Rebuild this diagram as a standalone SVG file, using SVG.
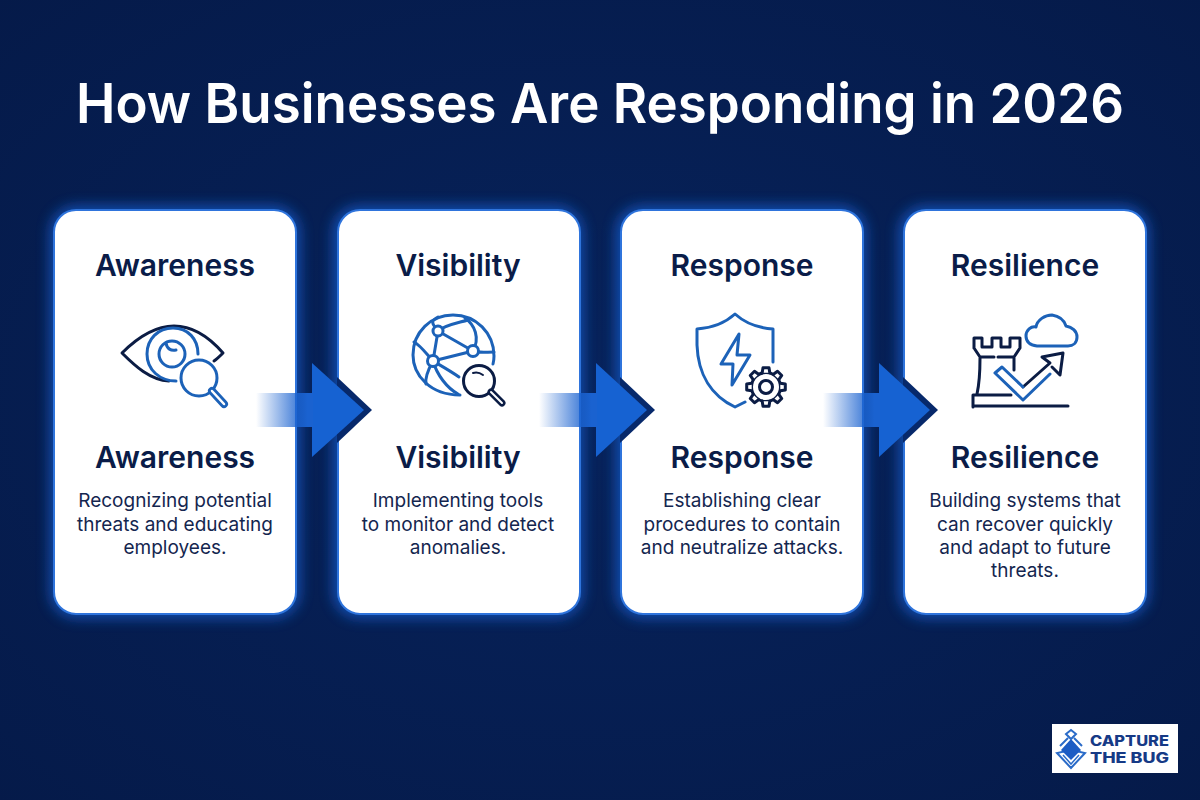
<svg xmlns="http://www.w3.org/2000/svg" xmlns:xlink="http://www.w3.org/1999/xlink" width="1200" height="800" viewBox="0 0 1200 800">
<style>
text{font-family:Inter,"Liberation Sans",sans-serif;text-anchor:middle}
.h{font-size:30px;font-weight:600;fill:#0a1c48}
.b{font-size:19px;fill:#14264f}
.card{fill:#fff;stroke:#2f74dc;stroke-width:2}
.ic{fill:none;stroke-width:3;stroke-linecap:round;stroke-linejoin:round}
.bl{stroke:#1c62b8}
.dk{stroke:#0b1c44}
.lg{font-size:14px;font-weight:800;fill:#163a86;text-anchor:start}
</style>
<defs>
<radialGradient id="bg" cx="50%" cy="50%" r="72%"><stop offset="0" stop-color="#07235c"/><stop offset="1" stop-color="#051a49"/></radialGradient>
<linearGradient id="fade" x1="0" x2="1" y1="0" y2="0"><stop offset="0" stop-color="#1a62d0" stop-opacity="0"/><stop offset="0.9" stop-color="#1a62d0"/></linearGradient>
<filter id="glow" x="-20%" y="-20%" width="140%" height="140%"><feGaussianBlur stdDeviation="7"/></filter>
<path id="tooth" d="M-3.800 -14.300L-3 -19.300H3L3.800 -14.300" fill="#fff"/>
</defs>
<rect width="1200" height="800" fill="url(#bg)"/>
<text x="600" y="123" font-size="55" font-weight="600" fill="#fff" textLength="1048" lengthAdjust="spacingAndGlyphs">How Businesses Are Responding in 2026</text>

<g id="glows" fill="#175ccb" opacity="0.8" filter="url(#glow)">
<rect x="50" y="206" width="250" height="412" rx="26"/>
<rect x="333" y="206" width="250" height="412" rx="26"/>
<rect x="616" y="206" width="250" height="412" rx="26"/>
<rect x="899" y="206" width="250" height="412" rx="26"/>
</g>

<g id="node-awareness">
<rect class="card" x="54" y="210" width="242" height="404" rx="22"/>
<text class="h" x="175" y="276">Awareness</text>
<g class="ic">
<path class="dk" d="M169 381C150 380 135 366 122 353C138 337 155 326 174 326C194 326 210 338 223 353C220 356 217 359 214 361"/>
<path class="bl" d="M198 354C198 339 188 328 173 328C158 328 147 339 147 354C147 370 160 381 176 381"/>
<circle class="bl" cx="172" cy="354" r="13"/>
<path class="bl" d="M166 343C167 349 171 351 176 350"/>
<circle class="bl" cx="199" cy="378" r="18" fill="#fff"/>
<path class="bl" d="M212 391L224 404" stroke-width="8"/>
<path d="M212 391L224 404" stroke="#fff" stroke-width="2.500"/>
</g>
<text class="h" x="175" y="468">Awareness</text>
<text class="b" x="175" y="507">Recognizing potential</text>
<text class="b" x="175" y="531">threats and educating</text>
<text class="b" x="175" y="554">employees.</text>
</g>

<g id="node-visibility">
<rect class="card" x="338" y="210" width="242" height="404" rx="22"/>
<text class="h" x="458" y="276">Visibility</text>
<g class="ic bl">
<path d="M460 395C430 395 413 375 413 355C413 332 431 315 453 315C476 315 494 333 494 356C494 357 494 360 493 364"/>
<path d="M438 331L473 351L433 361L438 331M438 331C430 322 432 320 438 317M473 351C480 338 475 325 465 318M433 361C425 352 420 345 414 342M433 361C437 375 447 388 458 394M473 351C478 353 486 352 494 352M438 331C445 325 458 323 468 320M433 361C445 368 452 372 459 377M433 361C428 370 425 378 426 384"/>
<g fill="#fff"><circle cx="438" cy="331" r="5"/><circle cx="473" cy="351" r="5.500"/><circle cx="433" cy="361" r="5.500"/></g>
</g>
<g class="ic dk">
<circle cx="479" cy="381" r="15.500" fill="#fff"/>
<path d="M491 392L502 403" stroke-width="7"/>
<path d="M491 392L502 403" stroke="#fff" stroke-width="2"/>
<path d="M473 373C476 372 479 372 483 375" stroke-width="2"/>
</g>
<text class="h" x="458" y="468">Visibility</text>
<text class="b" x="458" y="507">Implementing tools</text>
<text class="b" x="458" y="531">to monitor and detect</text>
<text class="b" x="458" y="554">anomalies.</text>
</g>

<g id="node-response">
<rect class="card" x="621" y="210" width="242" height="404" rx="22"/>
<text class="h" x="742" y="276">Response</text>
<g class="ic bl">
<path d="M745 402L735 407C712 396 698 375 697 345V329C713 328 725 323 735 314C745 323 758 328 773 329V362"/>
<path d="M739 334L721 364H733L732 385L750 355H737Z"/>
</g>
<g class="ic dk" transform="translate(766 387)">
<circle r="14.500" fill="#fff"/>
<use href="#tooth"/>
<use href="#tooth" transform="rotate(45)"/>
<use href="#tooth" transform="rotate(90)"/>
<use href="#tooth" transform="rotate(135)"/>
<use href="#tooth" transform="rotate(180)"/>
<use href="#tooth" transform="rotate(225)"/>
<use href="#tooth" transform="rotate(270)"/>
<use href="#tooth" transform="rotate(315)"/>
<circle r="6.500"/>
</g>
<text class="h" x="742" y="468">Response</text>
<text class="b" x="742" y="507">Establishing clear</text>
<text class="b" x="742" y="531">procedures to contain</text>
<text class="b" x="742" y="554">and neutralize attacks.</text>
</g>

<g id="node-resilience">
<rect class="card" x="904" y="210" width="242" height="404" rx="22"/>
<text class="h" x="1025" y="276">Resilience</text>
<g class="ic dk">
<path d="M974 348V338H982V347H992V338H1001V347H1010V338H1020V348L1014 357H998M994 357H980L974 348M980 358C980 372 979 385 977 394M973 407V395H1011M973 406H1068M1014 358V370"/>
<path d="M1023 387L1050 363L1042 357L1063 353L1060 375L1052 367"/>
</g>
<g class="ic bl">
<path d="M1023 387L1002 367L995 373L1023 400L1050 374"/>
<path d="M1037 346C1029 345 1026 341 1026 336C1026 330 1031 326 1036 327C1037 320 1045 315 1052 315C1059 316 1064 320 1066 326C1072 327 1077 331 1077 337C1077 343 1073 346 1068 346Z"/>
</g>
<text class="h" x="1025" y="468">Resilience</text>
<text class="b" x="1025" y="507">Building systems that</text>
<text class="b" x="1025" y="531">can recover quickly</text>
<text class="b" x="1025" y="554">and adapt to future</text>
<text class="b" x="1025" y="577">threats.</text>
</g>

<g id="connectors">
<g id="arrow-1"><path d="M337 377L372 410L337 443Z" fill="#07296b"/><path d="M312 363L364 410L312 457Z" fill="#1662d2"/><rect x="256" y="393" width="57" height="34" fill="url(#fade)"/></g>
<g id="arrow-2"><path d="M620 377L655 410L620 443Z" fill="#07296b"/><path d="M596 363L647 410L596 457Z" fill="#1662d2"/><rect x="539" y="393" width="58" height="34" fill="url(#fade)"/></g>
<g id="arrow-3"><path d="M903 377L938 410L903 443Z" fill="#07296b"/><path d="M879 363L930 410L879 457Z" fill="#1662d2"/><rect x="823" y="393" width="57" height="34" fill="url(#fade)"/></g>
</g>

<g id="logo">
<rect x="1052" y="724" width="126" height="49" fill="#fff"/>
<path d="M1071 750L1085 753L1071 768L1057 753Z" fill="none" stroke="#2a6bc8" stroke-width="2"/>
<path d="M1071 739L1081 750L1071 760L1061 750Z" fill="#1c5cc4"/>
<path d="M1060 746L1068 738M1082 746L1074 738M1066 734L1071 730L1076 734L1071 739Z" fill="none" stroke="#2a6bc8" stroke-width="2"/>
<path d="M1063 755L1071 764L1079 755" fill="none" stroke="#2a6bc8" stroke-width="1.500"/>
<text class="lg" x="1090" y="746" textLength="79" lengthAdjust="spacingAndGlyphs">CAPTURE</text>
<text class="lg" x="1090" y="763" textLength="79" lengthAdjust="spacingAndGlyphs">THE BUG</text>
</g>
</svg>
